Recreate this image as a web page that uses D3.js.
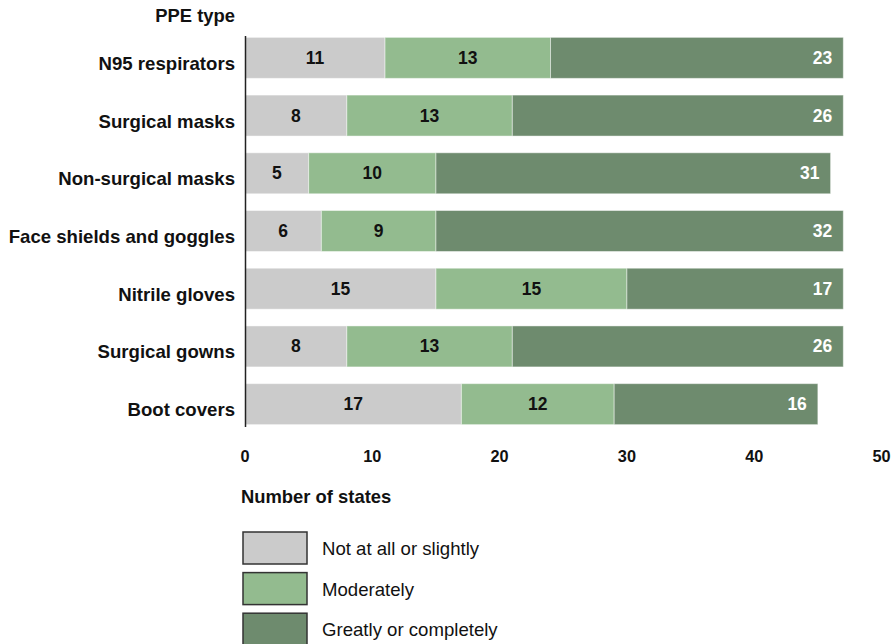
<!DOCTYPE html>
<html><head><meta charset="utf-8">
<script src="https://cdn.jsdelivr.net/npm/d3@7"></script>
<style>body{margin:0;background:#fff}svg{display:block;font-family:"Liberation Sans",Arial,sans-serif}</style>
</head><body>
<svg id="c" width="893" height="644"></svg>
<script>
const categories = ["N95 respirators","Surgical masks","Non-surgical masks","Face shields and goggles","Nitrile gloves","Surgical gowns","Boot covers"];
const notAtAll = [11,8,5,6,15,8,17];
const moderately = [13,13,10,9,15,13,12];
const greatly = [23,26,31,32,17,26,16];
const seriesNames = ["Not at all or slightly","Moderately","Greatly or completely"];
const colors = ["#cbcbcb","#93bb8f","#6e8b6e"];
const xTicks = [0,10,20,30,40,50];

const svg = d3.select("#c");
const x = d3.scaleLinear().domain([0,50]).range([245,881.5]);
const y = d3.scaleBand().domain(categories).range([29,433]).paddingInner(0.29).paddingOuter(0.145);

const rows = categories.map((c,i)=>({cat:c, vals:[notAtAll[i],moderately[i],greatly[i]]}));
rows.forEach(r=>{
  let acc=0;
  r.vals.forEach((v,k)=>{
    const x0=acc, x1=acc+v; acc=x1;
    svg.append("rect").attr("x",x(x0)).attr("y",y(r.cat)).attr("width",x(x1)-x(x0)).attr("height",y.bandwidth())
      .attr("fill",colors[k]).attr("stroke","rgba(255,255,255,0.45)").attr("stroke-width",1);
    const t = svg.append("text").attr("y",y(r.cat)+y.bandwidth()/2+6)
      .attr("font-size",17.5).attr("font-weight","bold").text(v);
    if(k<2){ t.attr("x",(x(x0)+x(x1))/2).attr("text-anchor","middle").attr("fill","#111"); }
    else { t.attr("x",x(x1)-11).attr("text-anchor","end").attr("fill","#fff"); }
  });
});

// y axis line
svg.append("line").attr("x1",245.5).attr("x2",245.5).attr("y1",36).attr("y2",427).attr("stroke","#222").attr("stroke-width",1.5);

// category labels
svg.selectAll(".cl").data(categories).join("text").attr("class","cl")
  .attr("x",235).attr("y",d=>y(d)+y.bandwidth()/2+12).attr("text-anchor","end")
  .attr("font-size",18.6).attr("font-weight","bold").attr("fill","#111").text(d=>d);
svg.append("text").attr("x",235).attr("y",21.5).attr("text-anchor","end").attr("font-size",18.4).attr("font-weight","bold").attr("fill","#111").text("PPE type");

// x axis tick labels
svg.selectAll(".xt").data(xTicks).join("text").attr("class","xt")
  .attr("x",d=>x(d)).attr("y",461.5).attr("text-anchor","middle").attr("font-size",16.3).attr("font-weight","bold").attr("fill","#111").text(d=>d);
svg.append("text").attr("x",241).attr("y",502.5).attr("font-size",18.4).attr("font-weight","bold").attr("fill","#111").text("Number of states");

// legend
seriesNames.forEach((n,k)=>{
  const ly = 532 + k*40.6;
  svg.append("rect").attr("x",243).attr("y",ly).attr("width",64).attr("height",32).attr("fill",colors[k]).attr("stroke","#333").attr("stroke-width",1.5);
  svg.append("text").attr("x",322).attr("y",ly+23).attr("font-size",18.6).attr("fill","#111").text(n);
});
</script>
</body></html>
